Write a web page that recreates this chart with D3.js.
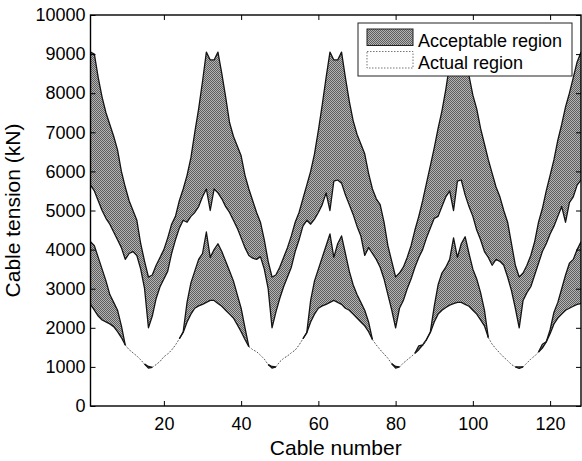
<!DOCTYPE html>
<html>
<head>
<meta charset="utf-8">
<script src="https://cdn.jsdelivr.net/npm/d3@7"></script>
<style>
  html, body { margin: 0; padding: 0; background: #fff; }
  svg text { font-family: "Liberation Sans", Arial, Helvetica, sans-serif; fill: #000; }
</style>
</head>
<body>
<svg id="chart" width="582" height="461"></svg>
<script>
// Cable tension envelopes (kN) for cables 1..128
const upperLimit = [
  9050, 9000, 8400, 7900, 7500, 7200, 6900, 6550,
  6000, 5600, 5250, 5000, 4750, 4150, 3700, 3300,
  3350, 3600, 3800, 4000, 4300, 4650, 4850, 5250,
  5550, 5900, 6350, 7000, 7600, 8300, 9050, 8850,
  8850, 9050, 8500, 7900, 7250, 6900, 6650, 6400,
  5900, 5550, 5250, 4950, 4700, 4250, 3700, 3300,
  3350, 3550, 3800, 4050, 4350, 4700, 4950, 5300,
  5650, 6000, 6450, 7050, 7700, 8400, 9050, 8850,
  8850, 9050, 8400, 7800, 7300, 6950, 6700, 6450,
  5950, 5550, 5300, 5150, 4700, 4100, 3700, 3300,
  3400, 3550, 3800, 4100, 4500, 4850, 5250, 5700,
  6150, 6600, 7100, 7550, 8100, 8750, 9050, 8850,
  8850, 9050, 8450, 7950, 7600, 7100, 6700, 6300,
  5950, 5600, 5350, 5000, 4700, 4150, 3600, 3300,
  3400, 3600, 3850, 4200, 4700, 5050, 5500, 5900,
  6300, 6800, 7200, 7650, 8000, 8400, 8800, 9050
];
const lowerLimit = [
  2600, 2450, 2300, 2200, 2150, 2100, 2030, 1900,
  1750, 1560, 1440, 1360, 1280, 1180, 1070, 970,
  990, 1060, 1140, 1260, 1330, 1430, 1560, 1720,
  1880, 2150, 2350, 2500, 2560, 2600, 2650, 2700,
  2700, 2620, 2550, 2450, 2350, 2250, 2080, 1900,
  1700, 1520, 1440, 1390, 1300, 1200, 1060, 970,
  1000, 1130, 1220, 1280, 1360, 1430, 1560, 1720,
  1870, 2150, 2350, 2500, 2560, 2600, 2650, 2700,
  2650, 2600, 2500, 2450, 2350, 2250, 2150, 2050,
  1900, 1700, 1560, 1440, 1330, 1220, 1080, 970,
  1000, 1100, 1180, 1260, 1350, 1440, 1560, 1700,
  1880, 2150, 2350, 2450, 2520, 2580, 2620, 2650,
  2650, 2600, 2550, 2450, 2350, 2200, 2050, 1750,
  1580, 1460, 1350, 1250, 1160, 1060, 1000, 960,
  1000, 1100, 1200, 1280, 1380, 1480, 1640, 1850,
  2100, 2250, 2350, 2450, 2500, 2550, 2600, 2620
];
const actualMax = [
  5650, 5500, 5250, 5000, 4800, 4650, 4450, 4250,
  4050, 3750, 3900, 3950, 3850, 3500, 3000, 2000,
  2300, 2750, 3050, 3250, 3450, 3900, 4250, 4550,
  4750, 4700, 4850, 4950, 5100, 5350, 5550, 5000,
  5550, 5450, 5300, 5100, 4950, 4750, 4550, 4300,
  4050, 3850, 3780, 3750, 3820, 3500, 3000, 2000,
  2400, 2750, 3050, 3300, 3550, 3950, 4250, 4600,
  4750, 4650, 4780, 4950, 5150, 5450, 5000, 5750,
  5780, 5700, 5400, 5150, 4900, 4600, 4350, 3850,
  4050, 3900, 3750, 3550, 3250, 2850, 2450, 2000,
  2500, 2700, 3000, 3250, 3550, 3800, 4000, 4300,
  4550, 4800, 4850, 5100, 5350, 5500, 5000, 5750,
  5780, 5400, 5100, 4850, 4500, 4250, 3950, 3800,
  3600, 3750, 3700, 3600, 3300, 2950, 2500, 2000,
  2700, 2900, 3050, 3350, 3650, 3950, 4150, 4400,
  4600, 4850, 5100, 4700, 5200, 5350, 5650, 5780
];
const actualMin = [
  4200, 4100, 3800, 3500, 3200, 2850, 2650, 2450,
  2050, 1560, 1440, 1360, 1280, 1180, 1070, 1010,
  990, 1060, 1140, 1260, 1330, 1430, 1560, 1720,
  1900, 2650, 3150, 3450, 3750, 3900, 4450, 3800,
  4000, 4150, 3950, 3700, 3450, 3200, 2850, 2500,
  2000, 1520, 1440, 1390, 1300, 1200, 1060, 1010,
  1000, 1130, 1220, 1280, 1360, 1430, 1560, 1720,
  1880, 2700, 3200, 3500, 3800, 4100, 4400, 3800,
  4150, 4350, 3900, 3450, 3100, 2850, 2650, 2450,
  2150, 1700, 1560, 1440, 1330, 1220, 1080, 1010,
  1000, 1100, 1180, 1260, 1350, 1540, 1560, 1700,
  1900, 2550, 3100, 3400, 3550, 3750, 4300, 3800,
  4150, 4330, 3900, 3500, 3250, 2900, 2450, 1750,
  1580, 1460, 1350, 1250, 1160, 1060, 1000, 1000,
  1000, 1100, 1200, 1280, 1380, 1580, 1640, 1950,
  2400, 2650, 3000, 3350, 3650, 3750, 4000, 4200
];
const cableNumbers = upperLimit.map((_, i) => i + 1);
const xTicks = [20, 40, 60, 80, 100, 120];
const yTicks = [0, 1000, 2000, 3000, 4000, 5000, 6000, 7000, 8000, 9000, 10000];
const legendLabels = ["Acceptable region", "Actual region"];
const xTitle = "Cable number";
const yTitle = "Cable tension (kN)";

const plot = { left: 90.5, right: 581, top: 15, bottom: 406 };
const svg = d3.select("#chart");

const x = d3.scaleLinear().domain([1, 128]).range([plot.left, plot.right]);
const y = d3.scaleLinear().domain([0, 10000]).range([plot.bottom, plot.top]);

// halftone-like grey fill
const defs = svg.append("defs");
const pat = defs.append("pattern").attr("id", "halftone")
  .attr("width", 2).attr("height", 2).attr("patternUnits", "userSpaceOnUse");
pat.append("rect").attr("width", 2).attr("height", 2).attr("fill", "#b4b4b4");
pat.append("rect").attr("width", 1).attr("height", 1).attr("fill", "#5e5e5e");
pat.append("rect").attr("x", 1).attr("y", 1).attr("width", 1).attr("height", 1).attr("fill", "#5e5e5e");

defs.append("clipPath").attr("id", "plotClip").append("rect")
  .attr("x", plot.left).attr("y", plot.top)
  .attr("width", plot.right - plot.left).attr("height", plot.bottom - plot.top);

const idx = d3.range(cableNumbers.length);
const px = i => x(cableNumbers[i]);
const gap = i => actualMin[i] - lowerLimit[i];
const open = i => i >= 0 && i < idx.length && gap(i) > 5;

const g = svg.append("g").attr("clip-path", "url(#plotClip)");

// acceptable band
g.append("path").datum(idx)
  .attr("d", d3.area().x(px).y0(i => y(lowerLimit[i])).y1(i => y(upperLimit[i])))
  .attr("fill", "url(#halftone)");

// actual band
g.append("path").datum(idx)
  .attr("d", d3.area().x(px).y0(i => y(actualMin[i])).y1(i => y(actualMax[i])))
  .attr("fill", "#fff");

const edge = (series, defined) => d3.line().x(px).y(i => y(series[i])).defined(defined || (() => true));

g.append("path").datum(idx).attr("d", edge(upperLimit)).attr("fill", "none")
  .attr("stroke", "#141414").attr("stroke-width", 1.3).attr("stroke-linejoin", "round");
g.append("path").datum(idx).attr("d", edge(actualMax)).attr("fill", "none")
  .attr("stroke", "#141414").attr("stroke-width", 1.3).attr("stroke-linejoin", "round");

const solidDef = i => open(i) || open(i - 1) || open(i + 1);
g.append("path").datum(idx).attr("d", edge(lowerLimit, solidDef)).attr("fill", "none")
  .attr("stroke", "#141414").attr("stroke-width", 1.3).attr("stroke-linejoin", "round");
g.append("path").datum(idx).attr("d", edge(actualMin, solidDef)).attr("fill", "none")
  .attr("stroke", "#141414").attr("stroke-width", 1.3).attr("stroke-linejoin", "round");

// where the actual minimum meets the lower limit
g.append("path").datum(idx).attr("d", edge(actualMin, i => !open(i))).attr("fill", "none")
  .attr("stroke", "#555").attr("stroke-width", 1).attr("stroke-dasharray", "1.5,1.8");

// axes with inward ticks
function styleAxis(sel) {
  sel.select(".domain").remove();
  sel.selectAll(".tick line").attr("stroke", "#000").attr("stroke-width", 1);
  sel.selectAll("text").attr("font-size", 18)
    .attr("font-family", '"Liberation Sans", Arial, Helvetica, sans-serif').attr("fill", "#000");
}
svg.append("g").attr("transform", `translate(0,${plot.bottom})`)
  .call(d3.axisBottom(x).tickValues(xTicks).tickSize(-5).tickPadding(11).tickFormat(d3.format("d")))
  .call(styleAxis);
svg.append("g").attr("transform", `translate(0,${plot.top})`)
  .call(d3.axisTop(x).tickValues(xTicks).tickSize(-5).tickFormat(""))
  .call(styleAxis);
svg.append("g").attr("transform", `translate(${plot.left},0)`)
  .call(d3.axisLeft(y).tickValues(yTicks).tickSize(-5).tickPadding(5).tickFormat(d3.format("d")))
  .call(styleAxis);
svg.append("g").attr("transform", `translate(${plot.right},0)`)
  .call(d3.axisRight(y).tickValues(yTicks).tickSize(-5).tickFormat(""))
  .call(styleAxis);

svg.append("rect")
  .attr("x", plot.left).attr("y", plot.top)
  .attr("width", plot.right - plot.left).attr("height", plot.bottom - plot.top)
  .attr("fill", "none").attr("stroke", "#000").attr("stroke-width", 1.4);

// axis titles
svg.append("text").attr("x", (plot.left + plot.right) / 2).attr("y", 455)
  .attr("text-anchor", "middle").attr("font-size", 21).text(xTitle);
svg.append("text").attr("transform", `translate(20,${(plot.top + plot.bottom) / 2}) rotate(-90)`)
  .attr("text-anchor", "middle").attr("font-size", 21).text(yTitle);

// legend
const lg = svg.append("g");
lg.append("rect").attr("x", 358).attr("y", 23).attr("width", 214).attr("height", 53)
  .attr("fill", "#fff").attr("stroke", "#222").attr("stroke-width", 1);
const item = lg.selectAll("g.item").data(legendLabels).join("g").attr("class", "item")
  .attr("transform", (d, i) => `translate(0,${i * 22.5})`);
item.append("rect").attr("x", 367).attr("y", 29).attr("width", 46).attr("height", 16.5)
  .attr("fill", (d, i) => i === 0 ? "url(#halftone)" : "#fff")
  .attr("stroke", (d, i) => i === 0 ? "#222" : "#777")
  .attr("stroke-width", 1)
  .attr("stroke-dasharray", (d, i) => i === 0 ? null : "1.5,1.5");
item.append("text").attr("x", 418).attr("y", 46.5).attr("font-size", 18).text(d => d);
</script>
</body>
</html>
